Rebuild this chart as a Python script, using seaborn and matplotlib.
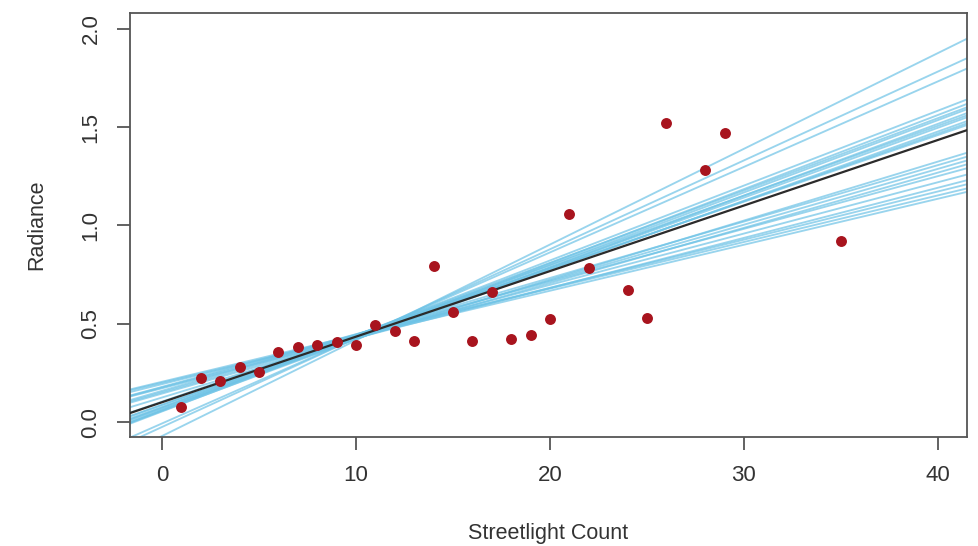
import matplotlib
matplotlib.use("Agg")
import matplotlib.pyplot as plt
import seaborn as sns
import pandas as pd

# observed points
streetlights = [1, 2, 3, 4, 5, 6, 7, 8, 9, 10, 11, 12, 13, 14, 15, 16, 17, 18, 19,
                20, 21, 22, 24, 25, 26, 28, 29, 35]
radiance = [0.077, 0.224, 0.209, 0.281, 0.255, 0.358, 0.383, 0.393, 0.408, 0.393,
            0.495, 0.465, 0.413, 0.796, 0.561, 0.413, 0.663, 0.423, 0.444, 0.526,
            1.056, 0.786, 0.673, 0.531, 1.52, 1.28, 1.47, 0.923]

# sampled regression lines (intercept, slope)
draw_intercepts = [-0.071, -0.025, -0.007,
                   0.060, 0.054, 0.074, 0.064, 0.057, 0.087, 0.077, 0.070, 0.088, 0.104,
                   0.125, 0.159, 0.152, 0.145, 0.179, 0.176, 0.172, 0.193, 0.205, 0.200]
draw_slopes = [0.0487, 0.0452, 0.0435,
               0.0381, 0.0377, 0.0368, 0.0368, 0.0365, 0.0355, 0.0355, 0.0352, 0.0345, 0.0339,
               0.0300, 0.0287, 0.0284, 0.0281, 0.0268, 0.0261, 0.0255, 0.0245, 0.0237, 0.0234]

# mean fit
mean_intercept = 0.101
mean_slope = 0.03335

df = pd.DataFrame({"Streetlight Count": streetlights, "Radiance": radiance})

sns.set_style("white")
plt.rcParams["font.family"] = ["Liberation Sans", "DejaVu Sans"]

fig = plt.figure(figsize=(9.79, 5.46), dpi=100)
ax = fig.add_axes([0.1328, 0.1996, 0.8549, 0.7766])

for a, b in zip(draw_intercepts, draw_slopes):
    ax.axline((0, a), slope=b, color="#6EC3E6", lw=1.35, alpha=0.7, zorder=2)
ax.axline((0, mean_intercept), slope=mean_slope, color="#2b2b2b", lw=1.6, zorder=3)

sns.scatterplot(data=df, x="Streetlight Count", y="Radiance", ax=ax,
                color="#A8141E", s=62, linewidth=0, zorder=4)

ax.set_xlim(-1.65, 41.5)
ax.set_ylim(-0.076, 2.081)
ax.set_xticks([0, 10, 20, 30, 40])
ax.set_yticks([0.0, 0.5, 1.0, 1.5, 2.0])
ax.set_yticklabels(["0.0", "0.5", "1.0", "1.5", "2.0"])

for sp in ax.spines.values():
    sp.set_color("#555555")
    sp.set_linewidth(1.3)

ax.tick_params(axis="both", direction="out", length=9.5, width=1.3, color="#555555",
               labelsize=16, labelcolor="#333333", pad=11, bottom=True, left=True)
ax.tick_params(axis="y", labelrotation=90)
for lbl in ax.get_yticklabels():
    lbl.set_va("center")

ax.set_xlabel("Streetlight Count", fontsize=15.5, color="#333333", labelpad=26)
ax.set_ylabel("Radiance", fontsize=15.5, color="#333333", labelpad=24)

fig.savefig("out.png", dpi=100)
